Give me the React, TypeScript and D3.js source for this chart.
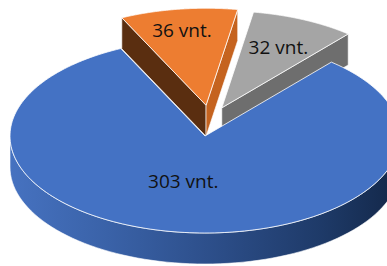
import * as React from "react";
import * as d3 from "d3";

// slice data (Excel 3D pie, first slice angle ~40deg)
const labels = ["303 vnt.", "36 vnt.", "32 vnt."];
const values = [303, 36, 32];
const explode = [0, 0.32, 0.32];
const topColors = ["#4472C4", "#ED7D31", "#A5A5A5"];
const startWallColors = ["#2F528F", "#5A2E10", "#7B7B7B"];
const endWallColors = ["#2F528F", "#C5631F", "#6E6E6E"];

const W = 387;
const H = 266;
const cx = 205;
const cy = 136;
const rx = 195;
const ry = 97;
const depth = 31;
const firstAngle = (40.4 * Math.PI) / 180;
// perspective-ish tweak of the explode shift
const explodeXScale = 0.45;
const explodeXBias = 5;
const labelRadius = [0.48, 0.78, 0.69];
const labelTurn = [6, -1, 0]; // degrees

type Pt = [number, number];

const line = d3.line<Pt>();

function sample(a0: number, a1: number, n = 80) {
  return d3.range(n + 1).map((i) => a0 + ((a1 - a0) * i) / n);
}

function frontRanges(a0: number, a1: number) {
  const out: [number, number][] = [];
  for (let k = -1; k <= 2; k++) {
    const lo = Math.max(a0, Math.PI / 2 + 2 * Math.PI * k);
    const hi = Math.min(a1, (3 * Math.PI) / 2 + 2 * Math.PI * k);
    if (hi > lo) out.push([lo, hi]);
  }
  return out;
}

export default function App() {
  const pie = d3
    .pie<number>()
    .sort(null)
    .startAngle(firstAngle)
    .endAngle(firstAngle + 2 * Math.PI);
  const arcs = pie(values);

  const slices = arcs.map((d, i) => {
    const mid = (d.startAngle + d.endAngle) / 2;
    const e = explode[i];
    const off: Pt = e
      ? [e * rx * Math.sin(mid) * explodeXScale + explodeXBias, -e * ry * Math.cos(mid)]
      : [0, 0];
    const P = (a: number, r: number, z: number): Pt => [
      cx + off[0] + r * rx * Math.sin(a),
      cy + off[1] - r * ry * Math.cos(a) + z,
    ];
    return { d, i, mid, P };
  });

  // back to front
  const order = [...slices].sort((a, b) => Math.cos(b.mid) - Math.cos(a.mid));

  return (
    <svg
      width={W}
      height={H}
      style={{ position: "absolute", left: 0, top: 0, background: "#fff" }}
    >
      <defs>
        <linearGradient
          id="blueSide"
          gradientUnits="userSpaceOnUse"
          x1={cx - rx}
          x2={cx + rx}
          y1={0}
          y2={0}
        >
          <stop offset="0%" stopColor="#4672C0" />
          <stop offset="25%" stopColor="#3A62A8" />
          <stop offset="55%" stopColor="#2B4C86" />
          <stop offset="80%" stopColor="#1E3A68" />
          <stop offset="100%" stopColor="#132748" />
        </linearGradient>
      </defs>
      {order.map(({ d, i, P }) => {
        const a0 = d.startAngle;
        const a1 = d.endAngle;
        const parts: React.ReactNode[] = [];
        // outer curved wall (front facing part)
        frontRanges(a0, a1).forEach(([lo, hi], k) => {
          const top = sample(lo, hi).map((a) => P(a, 1, 0));
          const bot = sample(lo, hi)
            .reverse()
            .map((a) => P(a, 1, depth));
          parts.push(
            <path
              key={`side${k}`}
              d={line([...top, ...bot])! + "Z"}
              fill={i === 0 ? "url(#blueSide)" : endWallColors[i]}
              stroke="#fff"
              strokeWidth={0.6}
            />
          );
        });
        // radial walls
        if (Math.sin(a0) < 0) {
          parts.push(
            <path
              key="w0"
              d={
                line([P(a0, 0, 0), P(a0, 1, 0), P(a0, 1, depth), P(a0, 0, depth)])! +
                "Z"
              }
              fill={startWallColors[i]}
              stroke="#fff"
              strokeWidth={0.6}
            />
          );
        }
        if (Math.sin(a1) > 0) {
          parts.push(
            <path
              key="w1"
              d={
                line([P(a1, 0, 0), P(a1, 1, 0), P(a1, 1, depth), P(a1, 0, depth)])! +
                "Z"
              }
              fill={endWallColors[i]}
              stroke="#fff"
              strokeWidth={0.6}
            />
          );
        }
        // top face
        const topPts: Pt[] = [P(a0, 0, 0), ...sample(a0, a1, 200).map((a) => P(a, 1, 0))];
        parts.push(
          <path
            key="top"
            d={line(topPts)! + "Z"}
            fill={topColors[i]}
            stroke="#fff"
            strokeWidth={0.8}
          />
        );
        return <g key={i}>{parts}</g>;
      })}
      {slices.map(({ i, mid, P }) => {
        const [x, y] = P(mid + (labelTurn[i] * Math.PI) / 180, labelRadius[i], 0);
        return (
          <text
            key={`l${i}`}
            x={x}
            y={y}
            dy="0.35em"
            textAnchor="middle"
            fontFamily="'Open Sans', sans-serif"
            fontSize={19}
            fill="#111"
          >
            {labels[i]}
          </text>
        );
      })}
    </svg>
  );
}
